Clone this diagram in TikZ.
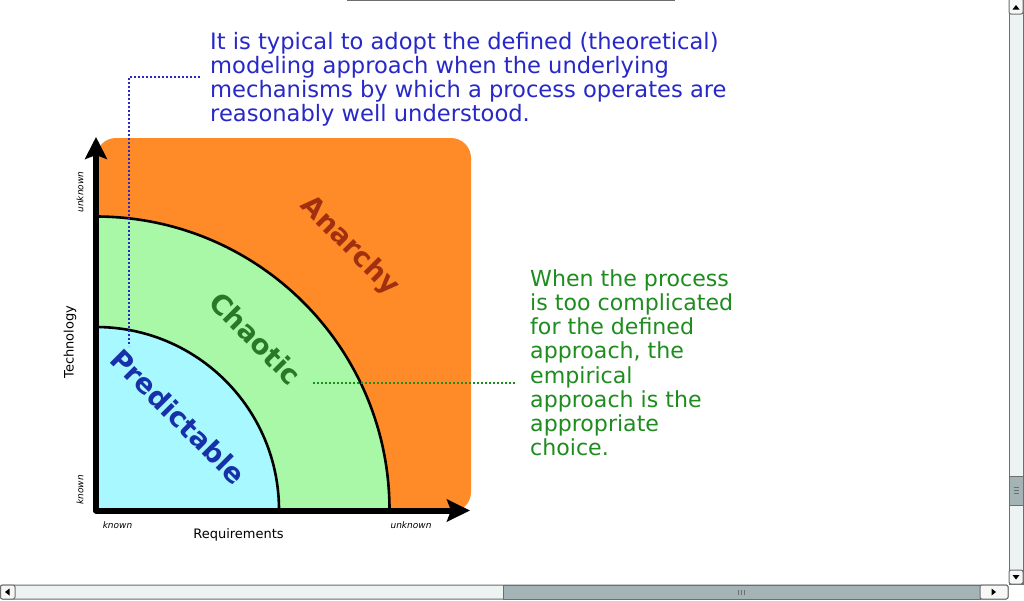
\documentclass[tikz,border=0pt]{standalone}
\usepackage{fontspec}
\setmainfont{DejaVu Sans}
\usetikzlibrary{arrows.meta}
\definecolor{orangeA}{HTML}{FF8A28}
\definecolor{greenA}{HTML}{A8F8A8}
\definecolor{cyanA}{HTML}{A8F8FF}
\definecolor{anarchyC}{HTML}{A03010}
\definecolor{chaoticC}{HTML}{287828}
\definecolor{predC}{HTML}{1830A8}
\definecolor{blueT}{HTML}{2828C8}
\definecolor{greenT}{HTML}{1E8C1E}
\definecolor{sbtrack}{HTML}{EDF2F2}
\definecolor{sbthumb}{HTML}{A4B3B5}
\definecolor{sbborder}{HTML}{6E6E6E}
\definecolor{sbbutton}{HTML}{F6F8F8}
\begin{document}
\begin{tikzpicture}[x=1pt,y=-1pt,
  region/.style={font=\fontsize{27.5}{30}\bfseries\selectfont, inner sep=0pt},
  axlab/.style={font=\fontsize{9}{10}\itshape\selectfont, inner sep=0pt},
  axname/.style={font=\fontsize{13}{15}\selectfont, inner sep=0pt},
  note/.style={inner sep=0pt, anchor=north west, align=left},
  callout/.style={line width=2pt, dash pattern=on 2pt off 2pt},
  arc/.style={line width=2.6pt, black},
  sb/.style={draw=sbborder, line width=1pt}]
\useasboundingbox (0,0) rectangle (1024,600);
\fill[white] (0,0) rectangle (1024,600);
% top rule
\draw[sbborder, line width=2pt] (347,0) -- (675,0);
% orange area
\fill[orangeA, rounded corners=20pt] (96,512) -- (96,138) -- (471,138) -- (471,512) -- cycle;
% quadrants
\begin{scope}
  \clip (96,100) rectangle (500,510);
  \fill[greenA] (96,510) circle[radius=293.5];
  \fill[cyanA] (96,510) circle[radius=183];
  \draw[arc] (96,510) circle[radius=293.5];
  \draw[arc] (96,510) circle[radius=183];
\end{scope}
% axes
\draw[line width=6pt, line join=round, {Stealth[length=22pt, width=22pt, inset=4pt]}-{Stealth[length=23pt, width=22pt, inset=4pt]}] (96,137) -- (96,510.5) -- (470,510.5);
% axis labels
\node[axlab] (kx) at (117.5,525) {known};
\node[axlab] (ux) at (411,525) {unknown};
\node[axlab, rotate=90] (ky) at (80,490) {known};
\node[axlab, rotate=90] (uy) at (80,192) {unknown};
\node[axname] (req) at (238.5,535) {Requirements};
\node[axname, rotate=90] (tech) at (70,342) {Technology};
% region labels
\node[region, text=anarchyC, rotate=-45] (anarchy) at (349.5,246.5) {Anarchy};
\node[region, text=chaoticC, rotate=-45] (chaotic) at (255.5,338.5) {Chaotic};
\node[region, text=predC, rotate=-45] (pred) at (178.5,416.5) {Predictable};
% notes
\node[note, text=blueT, font=\fontsize{22.6}{24}\selectfont] (defined) at (210,32.5)
  {It is typical to adopt the defined (theoretical)\\modeling approach when the underlying\\mechanisms by which a process operates are\\reasonably well understood.};
\node[note, text=greenT, font=\fontsize{22.1}{24.15}\selectfont] (empirical) at (530,269.5)
  {When the process\\is too complicated\\for the defined\\approach, the\\empirical\\approach is the\\appropriate\\choice.};
% callouts
\coordinate (bA) at (200,77);
\coordinate (bB) at (129,346);
\draw[callout, blueT] (bA) -- (bB |- bA) -- (bB);
\coordinate (gA) at (515,383);
\coordinate (gB) at (312,383);
\draw[callout, greenT] (gA) -- (gB);
% vertical scrollbar
\draw[sb, fill=sbtrack] (1009,-2) rectangle (1023,584);
\draw[sb, fill=sbbutton, rounded corners=2pt] (1009,-2) rectangle (1023,14);
\draw[sb, fill=sbthumb] (1009,476) rectangle (1023,505);
\draw[sb, fill=sbbutton, rounded corners=2pt] (1009,570) rectangle (1023,584);
\fill[black] (1012.5,9.5) -- (1019.5,9.5) -- (1016,5) -- cycle;
\fill[black] (1012.5,575) -- (1019.5,575) -- (1016,579.5) -- cycle;
\foreach \yy in {487.5,490.5,493.5} \draw[sbborder, line width=0.8pt] (1013.5,\yy) -- (1018.5,\yy);
% horizontal scrollbar
\draw[sb, fill=sbtrack, rounded corners=2pt] (0.5,585) rectangle (1008,599);
\draw[sb, fill=sbbutton, rounded corners=2pt] (0.5,585) rectangle (15,599);
\draw[sb, fill=sbthumb] (503,585) rectangle (980,599);
\draw[sb, fill=sbbutton, rounded corners=2pt] (980,585) rectangle (1008,599);
\fill[black] (9.5,588.5) -- (9.5,595.5) -- (5,592) -- cycle;
\fill[black] (991.5,588.5) -- (991.5,595.5) -- (996,592) -- cycle;
\foreach \xx in {738.5,741.5,744.5} \draw[sbborder, line width=0.8pt] (\xx,589.5) -- (\xx,594.5);
\end{tikzpicture}
\end{document}
